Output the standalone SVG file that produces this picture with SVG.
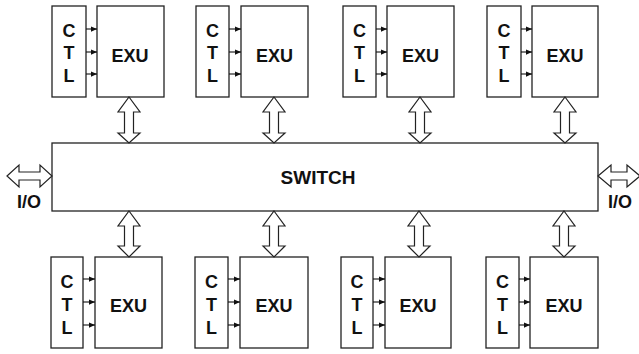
<svg xmlns="http://www.w3.org/2000/svg" width="639" height="354" viewBox="0 0 639 354">
<defs>
<marker id="ah" viewBox="0 0 8 8" refX="8" refY="4" markerWidth="6" markerHeight="6" orient="auto" markerUnits="userSpaceOnUse">
<path d="M0,0.5 L8,4 L0,7.5 Z" fill="#111"/>
</marker>
<style>
.box{fill:#fff;stroke:#222;stroke-width:1.3}
.t{font-family:"Liberation Sans",Arial,sans-serif;font-weight:bold;fill:#111;text-anchor:middle}
.l{font-size:18px}
.sw{font-size:19px}
.ctl{stroke:#111;stroke-width:1.1;marker-end:url(#ah)}
.dbl{fill:#fff;stroke:#222;stroke-width:1.2;stroke-linejoin:miter}
</style>
</defs>
<rect width="639" height="354" fill="#fff"/>

<g id="switch">
<rect class="box" x="52" y="143" width="546" height="68"/>
<text class="t sw" x="318" y="184">SWITCH</text>
</g>

<g id="io-left">
<text class="t l" x="29" y="208">I/O</text>
</g>
<g id="io-right">
<text class="t l" x="620" y="208">I/O</text>
</g>

<g id="top1">
<rect class="box" x="52" y="6" width="34" height="91"/>
<text class="t l" x="69" y="37">C</text><text class="t l" x="69" y="59">T</text><text class="t l" x="69" y="82">L</text>
<rect class="box" x="97" y="6" width="67" height="91"/>
<text class="t l" x="130" y="62">EXU</text>
</g>
<g id="top2">
<rect class="box" x="196" y="6" width="33" height="91"/>
<text class="t l" x="212.5" y="37">C</text><text class="t l" x="212.5" y="59">T</text><text class="t l" x="212.5" y="82">L</text>
<rect class="box" x="241" y="6" width="67" height="91"/>
<text class="t l" x="274.5" y="62">EXU</text>
</g>
<g id="top3">
<rect class="box" x="343" y="6" width="33" height="91"/>
<text class="t l" x="359.5" y="37">C</text><text class="t l" x="359.5" y="59">T</text><text class="t l" x="359.5" y="82">L</text>
<rect class="box" x="387" y="6" width="67" height="91"/>
<text class="t l" x="420.5" y="62">EXU</text>
</g>
<g id="top4">
<rect class="box" x="487" y="6" width="34" height="91"/>
<text class="t l" x="504" y="37">C</text><text class="t l" x="504" y="59">T</text><text class="t l" x="504" y="82">L</text>
<rect class="box" x="532" y="6" width="66" height="91"/>
<text class="t l" x="565" y="62">EXU</text>
</g>

<g id="bot1">
<rect class="box" x="51" y="257" width="32" height="91"/>
<text class="t l" x="67" y="288">C</text><text class="t l" x="67" y="311">T</text><text class="t l" x="67" y="334">L</text>
<rect class="box" x="95" y="257" width="67" height="91"/>
<text class="t l" x="128.5" y="312">EXU</text>
</g>
<g id="bot2">
<rect class="box" x="195" y="257" width="33" height="91"/>
<text class="t l" x="211.5" y="288">C</text><text class="t l" x="211.5" y="311">T</text><text class="t l" x="211.5" y="334">L</text>
<rect class="box" x="240" y="257" width="68" height="91"/>
<text class="t l" x="274" y="312">EXU</text>
</g>
<g id="bot3">
<rect class="box" x="341" y="257" width="32" height="91"/>
<text class="t l" x="357" y="288">C</text><text class="t l" x="357" y="311">T</text><text class="t l" x="357" y="334">L</text>
<rect class="box" x="385" y="257" width="66" height="91"/>
<text class="t l" x="418" y="312">EXU</text>
</g>
<g id="bot4">
<rect class="box" x="486" y="257" width="33" height="91"/>
<text class="t l" x="502.5" y="288">C</text><text class="t l" x="502.5" y="311">T</text><text class="t l" x="502.5" y="334">L</text>
<rect class="box" x="530" y="257" width="68" height="91"/>
<text class="t l" x="564" y="312">EXU</text>
</g>

<g id="connectors">
<line class="ctl" x1="86" y1="29" x2="97" y2="29"/><line class="ctl" x1="86" y1="52" x2="97" y2="52"/><line class="ctl" x1="86" y1="74" x2="97" y2="74"/>
<line class="ctl" x1="229" y1="29" x2="241" y2="29"/><line class="ctl" x1="229" y1="52" x2="241" y2="52"/><line class="ctl" x1="229" y1="74" x2="241" y2="74"/>
<line class="ctl" x1="376" y1="29" x2="387" y2="29"/><line class="ctl" x1="376" y1="52" x2="387" y2="52"/><line class="ctl" x1="376" y1="74" x2="387" y2="74"/>
<line class="ctl" x1="521" y1="29" x2="532" y2="29"/><line class="ctl" x1="521" y1="52" x2="532" y2="52"/><line class="ctl" x1="521" y1="74" x2="532" y2="74"/>
<line class="ctl" x1="83" y1="279" x2="95" y2="279"/><line class="ctl" x1="83" y1="302" x2="95" y2="302"/><line class="ctl" x1="83" y1="325" x2="95" y2="325"/>
<line class="ctl" x1="228" y1="279" x2="240" y2="279"/><line class="ctl" x1="228" y1="302" x2="240" y2="302"/><line class="ctl" x1="228" y1="325" x2="240" y2="325"/>
<line class="ctl" x1="373" y1="279" x2="385" y2="279"/><line class="ctl" x1="373" y1="302" x2="385" y2="302"/><line class="ctl" x1="373" y1="325" x2="385" y2="325"/>
<line class="ctl" x1="519" y1="279" x2="530" y2="279"/><line class="ctl" x1="519" y1="302" x2="530" y2="302"/><line class="ctl" x1="519" y1="325" x2="530" y2="325"/>

<path class="dbl" d="M129,97 L140,112 L133.5,112 L133.5,133 L140,133 L129,143 L118,133 L124.5,133 L124.5,112 L118,112 Z"/>
<path class="dbl" d="M274,97 L285,112 L278.5,112 L278.5,133 L285,133 L274,143 L263,133 L269.5,133 L269.5,112 L263,112 Z"/>
<path class="dbl" d="M420,97 L431,112 L424.5,112 L424.5,133 L431,133 L420,143 L409,133 L415.5,133 L415.5,112 L409,112 Z"/>
<path class="dbl" d="M565,97 L576,112 L569.5,112 L569.5,133 L576,133 L565,143 L554,133 L560.5,133 L560.5,112 L554,112 Z"/>
<path class="dbl" d="M129,211 L140,226 L133.5,226 L133.5,246 L140,246 L129,257 L118,246 L124.5,246 L124.5,226 L118,226 Z"/>
<path class="dbl" d="M274,211 L285,226 L278.5,226 L278.5,246 L285,246 L274,257 L263,246 L269.5,246 L269.5,226 L263,226 Z"/>
<path class="dbl" d="M419,211 L430,226 L423.5,226 L423.5,246 L430,246 L419,257 L408,246 L414.5,246 L414.5,226 L408,226 Z"/>
<path class="dbl" d="M564,211 L575,226 L568.5,226 L568.5,246 L575,246 L564,257 L553,246 L559.5,246 L559.5,226 L553,226 Z"/>
<path class="dbl" d="M7,176 L19,165 L19,172 L40,172 L40,165 L52,176 L40,187 L40,180 L19,180 L19,187 Z"/>
<path class="dbl" d="M598,176 L611,165 L611,172 L627,172 L627,165 L640,176 L627,187 L627,180 L611,180 L611,187 Z"/>
</g>
</svg>
